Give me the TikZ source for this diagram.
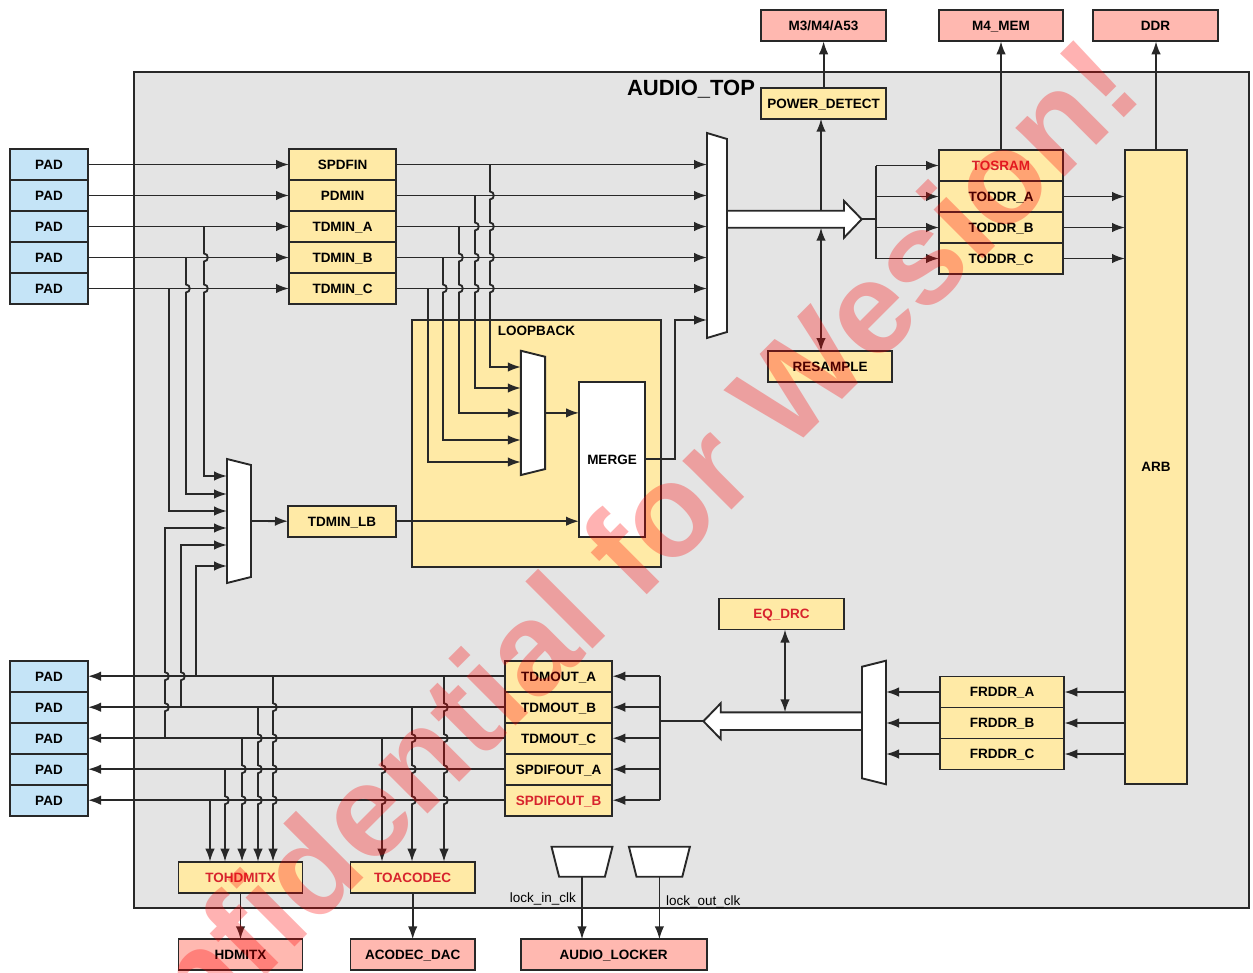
\documentclass[tikz,border=0pt]{standalone}
\usepackage{fontspec}
\setmainfont{Liberation Sans}
\usetikzlibrary{arrows.meta}

\definecolor{padblue}{RGB}{197,228,247}
\definecolor{blkyellow}{RGB}{255,234,166}
\definecolor{extpink}{RGB}{255,184,176}
\definecolor{topgray}{RGB}{228,228,228}
\definecolor{txtred}{RGB}{215,35,45}
\definecolor{edge}{RGB}{40,40,40}

\begin{document}
\begin{tikzpicture}[
        x=1pt, y=-1pt,
        font=\fontsize{13.5}{15}\selectfont\bfseries,
        % Estilos de los bloques
        box/.style={
            draw=edge,
            line width=1.9pt,
            inner sep=0pt,
            outer sep=0pt,
            minimum height=31pt,
            text height=9.7pt,
            text depth=0pt
        },
        pad/.style={box, fill=padblue, minimum width=78pt},
        blk/.style={box, fill=blkyellow, minimum width=107pt},
        ext/.style={box, fill=extpink, minimum width=124.5pt},
        ghost/.style={inner sep=0pt, outer sep=0pt},
        muxbody/.style={draw=edge, line width=1.9pt, fill=white},
        wire/.style={draw=edge, line width=1.8pt},
        arr/.style={wire, -{Latex[length=13pt,width=9.5pt]}},
        rarr/.style={wire, {Latex[length=13pt,width=9.5pt]}-},
        biarr/.style={wire, {Latex[length=13pt,width=9.5pt]}-{Latex[length=13pt,width=9.5pt]}},
        clklabel/.style={font=\fontsize{13.5}{15}\selectfont, inner sep=0pt}
    ]

    \useasboundingbox (0,0) rectangle (1253,972);

    % --- FILAS ---
    \def\yIa{164.5}
    \def\yIb{195.5}
    \def\yIc{226.5}
    \def\yId{257.5}
    \def\yIe{288.5}

    \def\yOa{676.2}
    \def\yOb{707.2}
    \def\yOc{738.2}
    \def\yOd{769.2}
    \def\yOe{800.2}

    % --- MARCO AUDIO_TOP ---
    \node[draw=edge, line width=1.9pt, fill=topgray, inner sep=0pt, outer sep=0pt,
        minimum width=1115pt, minimum height=836.6pt] (audiotop) at (691.5,490) {};
    \node[anchor=base, inner sep=0pt, font=\fontsize{22}{24}\selectfont\bfseries] (toptitle) at (691,95) {AUDIO\_TOP};

    % --- LOOPBACK ---
    \node[box, fill=blkyellow, minimum width=248.4pt, minimum height=247pt] (loopback) at (536.5,443.5) {};
    \node[anchor=base, inner sep=0pt] (lbtitle) at (536.5,335.5) {LOOPBACK};
    \node[box, fill=white, minimum width=66pt, minimum height=155pt] (merge) at (612,459.2) {MERGE};

    % --- MUX ---
    \node[ghost, minimum width=20pt, minimum height=205pt] (muxa) at (717,235.5) {};
    \node[ghost, minimum width=24.3pt, minimum height=124.3pt] (muxb) at (533,412.9) {};
    \node[ghost, minimum width=24pt, minimum height=124pt] (muxc) at (239,521) {};
    \node[ghost, minimum width=24pt, minimum height=123.6pt] (muxd) at (874,722.5) {};

    % flechas huecas
    \draw[muxbody] (727,210.7) -- (844,210.7) -- (844,201) -- (861.7,219.2) coordinate (outtip)
        -- (844,237.7) -- (844,227.7) -- (727,227.7);
    \draw[muxbody] (862,712.3) -- (720.7,712.3) -- (720.7,703.3) -- (703.4,721.2) coordinate (intip)
        -- (720.7,739) -- (720.7,730) -- (862,730);

    \foreach \m in {muxa,muxb,muxc}
        \draw[muxbody] (\m.north west) -- ([yshift=-6pt]\m.north east) -- ([yshift=6pt]\m.south east) -- (\m.south west) -- cycle;
    \draw[muxbody] ([yshift=-6pt]muxd.north west) -- (muxd.north east) -- (muxd.south east) -- ([yshift=6pt]muxd.south west) -- cycle;

    % --- ENTRADAS ---
    \foreach \i/\n/\t/\y in {1/spdfin/SPDFIN/\yIa, 2/pdmin/PDMIN/\yIb, 3/tdmina/TDMIN\_A/\yIc,
                             4/tdminb/TDMIN\_B/\yId, 5/tdminc/TDMIN\_C/\yIe} {
        \node[pad] (padi\i) at (49,\y) {PAD};
        \node[blk] (\n) at (342.5,\y) {\t};
    }
    \node[blk, minimum width=108pt] (tdminlb) at (342,521.2) {TDMIN\_LB};

    % --- SALIDAS ---
    \foreach \i/\n/\t/\c/\y in {1/tdmouta/TDMOUT\_A/black/\yOa, 2/tdmoutb/TDMOUT\_B/black/\yOb,
                                3/tdmoutc/TDMOUT\_C/black/\yOc, 4/spdifouta/SPDIFOUT\_A/black/\yOd,
                                5/spdifoutb/SPDIFOUT\_B/txtred/\yOe} {
        \node[pad] (pado\i) at (49,\y) {PAD};
        \node[blk, minimum width=107.3pt, text=\c] (\n) at (558.7,\y) {\t};
    }

    % --- LADO DERECHO ---
    \foreach \n/\t/\c/\y in {tosram/TOSRAM/txtred/165.5, toddra/TODDR\_A/black/196.5,
                             toddrb/TODDR\_B/black/227.5, toddrc/TODDR\_C/black/258.5}
        \node[blk, minimum width=124pt, text=\c] (\n) at (1001,\y) {\t};
    \foreach \n/\t/\y in {frddra/FRDDR\_A/692, frddrb/FRDDR\_B/723, frddrc/FRDDR\_C/754}
        \node[blk, minimum width=124.7pt] (\n) at (1002,\y) {\t};
    \node[box, fill=blkyellow, minimum width=62pt, minimum height=634pt] (arb) at (1156,467) {ARB};

    \node[blk, minimum width=124.7pt] (powerdetect) at (823.6,103.2) {POWER\_DETECT};
    \node[blk, minimum width=124pt] (resample) at (830,366.5) {RESAMPLE};
    \node[blk, minimum width=125pt, text=txtred] (eqdrc) at (781.5,614) {EQ\_DRC};

    \node[ext] (m3) at (823.6,25.8) {M3/M4/A53};
    \node[ext] (m4mem) at (1001,25.8) {M4\_MEM};
    \node[ext] (ddr) at (1155.5,25.8) {DDR};

    % --- ABAJO ---
    \node[blk, minimum width=124pt, text=txtred] (tohdmitx) at (240.5,877.2) {TOHDMITX};
    \node[blk, minimum width=124.5pt, text=txtred] (toacodec) at (412.7,877.2) {TOACODEC};
    \node[ext, minimum width=124pt] (hdmitx) at (240.5,954.8) {HDMITX};
    \node[ext] (acodecdac) at (412.7,954.8) {ACODEC\_DAC};
    \node[ext, minimum width=186pt] (locker) at (613.6,954.8) {AUDIO\_LOCKER};

    \node[ghost, minimum width=61pt, minimum height=30pt] (clkin) at (582,861.7) {};
    \node[ghost, minimum width=61pt, minimum height=30pt] (clkout) at (659.4,861.7) {};
    \foreach \c in {clkin,clkout}
        \draw[muxbody] (\c.north west) -- (\c.north east) -- ([xshift=-7.6pt]\c.south east) -- ([xshift=7.6pt]\c.south west) -- cycle;
    \node[clklabel, anchor=base east] (lockin) at (576,902) {lock\_in\_clk};
    \node[clklabel, anchor=base west] (lockout) at (666,905) {lock\_out\_clk};

    % --- CONEXIONES DE ENTRADA ---
    \foreach \i/\n in {1/spdfin, 2/pdmin, 3/tdmina, 4/tdminb, 5/tdminc} {
        \draw[arr] (padi\i.east) -- (\n.west);
        \draw[arr] (\n.east) -- (\n.east -| muxa.west);
    }

    % hacia el mux del loopback (con saltos)
    \foreach \x/\ya/\yb/\hops in {490/\yIa/367/{\yIb,\yIc,\yId,\yIe}, 475/\yIb/388/{\yIc,\yId,\yIe},
                                  459/\yIc/413/{\yId,\yIe}, 443/\yId/440/{\yIe}}
        \draw[arr] (\x,\ya) \foreach \h in \hops { -- (\x,\h-4) .. controls +(5,0) and +(5,0) .. (\x,\h+4) }
            -- (\x,\yb) -- (muxb.west |- 0,\yb);
    \draw[arr] (428,\yIe) -- (428,462) -- (muxb.west |- 0,462);

    % hacia el mux de la izquierda
    \foreach \x/\ya/\yb/\hops in {204/\yIc/476/{\yId,\yIe}, 186/\yId/494/{\yIe}}
        \draw[arr] (\x,\ya) \foreach \h in \hops { -- (\x,\h-4) .. controls +(5,0) and +(5,0) .. (\x,\h+4) }
            -- (\x,\yb) -- (muxc.west |- 0,\yb);
    \draw[arr] (169,\yIe) -- (169,511) -- (muxc.west |- 0,511);
    \foreach \x/\ya/\yb/\hops in {165/528/\yOc/{\yOa,\yOb}, 181/545/\yOb/{\yOa}}
        \draw[rarr] (muxc.west |- 0,\ya) -- (\x,\ya) \foreach \h in \hops { -- (\x,\h-4) .. controls +(5,0) and +(5,0) .. (\x,\h+4) }
            -- (\x,\yb);
    \draw[rarr] (muxc.west |- 0,566) -- (196,566) -- (196,\yOa);

    \draw[arr] (muxc.east) -- (tdminlb.west);
    \draw[arr] (tdminlb.east) -- (tdminlb.east -| merge.west);
    \draw[arr] (muxb.east) -- (muxb.east -| merge.west);
    \draw[arr] (merge.east) -| (675,320) -- (muxa.west |- 0,320);

    % --- CONEXIONES DE SALIDA ---
    \foreach \i/\n in {1/tdmouta, 2/tdmoutb, 3/tdmoutc, 4/spdifouta, 5/spdifoutb} {
        \draw[arr] (\n.west) -- (pado\i.east);
        \draw[arr] (\n.east -| 660,0) -- (\n.east);
    }
    \draw[wire] (660,\yOa) -- (660,\yOe);
    \draw[wire] (intip) -- (660,721.2);

    \foreach \x/\ya/\hops in {273/\yOa/{\yOb,\yOc,\yOd,\yOe}, 258/\yOb/{\yOc,\yOd,\yOe},
                              242/\yOc/{\yOd,\yOe}, 225/\yOd/{\yOe}}
        \draw[arr] (\x,\ya) \foreach \h in \hops { -- (\x,\h-4) .. controls +(5,0) and +(5,0) .. (\x,\h+4) }
            -- (tohdmitx.north -| \x,0);
    \draw[arr] (210,\yOe) -- (tohdmitx.north -| 210,0);
    \foreach \x/\ya/\hops in {444/\yOa/{\yOb,\yOc,\yOd,\yOe}, 412/\yOb/{\yOc,\yOd,\yOe}, 382/\yOc/{\yOd,\yOe}}
        \draw[arr] (\x,\ya) \foreach \h in \hops { -- (\x,\h-4) .. controls +(5,0) and +(5,0) .. (\x,\h+4) }
            -- (toacodec.north -| \x,0);

    \draw[arr] (tohdmitx.south) -- (hdmitx.north);
    \draw[arr] (toacodec.south) -- (acodecdac.north);
    \draw[arr] (clkin.south) -- (clkin.south |- locker.north);
    \draw[arr] (clkout.south) -- (clkout.south |- locker.north);

    % --- CONEXIONES DERECHA ---
    \draw[wire] (outtip) -- (876,219.2);
    \draw[wire] (876,165.5) -- (876,258.5);
    \foreach \n in {tosram, toddra, toddrb, toddrc}
        \draw[arr] (\n.west -| 876,0) -- (\n.west);
    \foreach \n in {toddra, toddrb, toddrc}
        \draw[arr] (\n.east) -- (\n.east -| arb.west);
    \foreach \n in {frddra, frddrb, frddrc} {
        \draw[arr] (\n.east -| arb.west) -- (\n.east);
        \draw[arr] (\n.west) -- (\n.west -| muxd.east);
    }

    \draw[arr] (821,210.7) -- (powerdetect.south -| 821,0);
    \draw[biarr] (resample.north -| 821,0) -- (821,227.7);
    \draw[biarr] (eqdrc.south -| 785,0) -- (785,712.3);

    \draw[arr] (powerdetect.north) -- (m3.south);
    \draw[arr] (tosram.north) -- (m4mem.south);
    \draw[arr] (arb.north) -- (arb.north |- ddr.south);

    % --- MARCA DE AGUA ---
    \begin{scope}
        \clip (0,0) rectangle (1253,972);
        \node[anchor=base east, rotate=45, inner sep=0pt, text=red, text opacity=0.3,
            font=\fontsize{131}{131}\selectfont\bfseries] (wmark) at (1146,96) {Confidential for Wesion!};
    \end{scope}

\end{tikzpicture}
\end{document}
